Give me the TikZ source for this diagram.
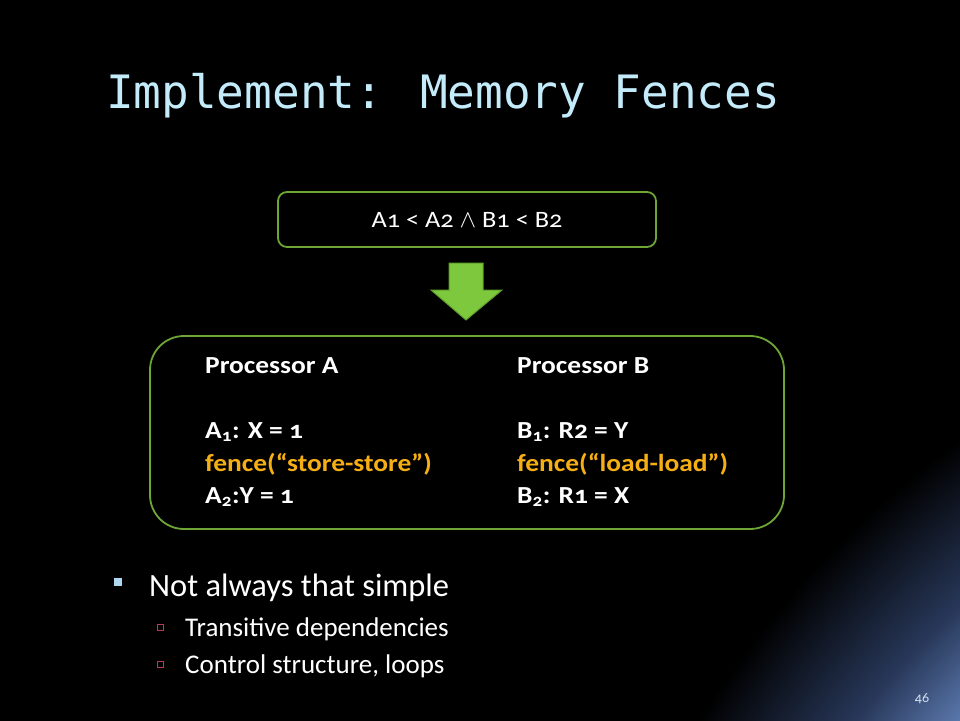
\documentclass[tikz,border=0pt]{standalone}
\usepackage{fontspec}
\setmainfont[Numbers=OldStyle]{Carlito}
\newfontfamily\boxfont[Numbers=OldStyle,FakeStretch=1.12]{Carlito}
\newfontfamily\titlefont{DejaVu Sans Mono}
\usetikzlibrary{calc}
\definecolor{titleblue}{RGB}{195,235,250}
\definecolor{boxgreen}{RGB}{110,165,55}
\definecolor{arrowgreen}{RGB}{125,200,60}
\definecolor{arrowedge}{RGB}{95,160,45}
\definecolor{fenceorange}{RGB}{245,175,20}
\definecolor{bulletblue}{RGB}{175,215,240}
\definecolor{subbullet}{RGB}{190,55,85}
\definecolor{glowblue}{RGB}{90,120,172}
\definecolor{glowmid}{RGB}{40,56,90}
\pgfdeclareradialshading{glow}{\pgfpoint{0bp}{0bp}}{color(0bp)=(glowblue); color(9.09bp)=(glowblue); color(10bp)=(glowmid); color(11.48bp)=(black); color(50bp)=(black)}
\tikzset{
  boxline/.style={draw=boxgreen, line width=1.8pt},
  codetext/.style={anchor=base west, text=white, font=\boxfont\fontsize{24.5}{27}\selectfont\bfseries, inner sep=0pt},
  fencetext/.style={anchor=base west, text=fenceorange, font=\boxfont\fontsize{24.5}{27}\selectfont\bfseries, inner sep=0pt},
  bullettext/.style={anchor=base west, text=white, inner sep=0pt},
}
\newcommand{\sbs}[1]{\textsubscript{#1}}
\begin{document}
\begin{tikzpicture}[x=1pt,y=-1pt]
\useasboundingbox (0,0) rectangle (960,720);
\fill[black] (0,0) rectangle (960,720);
\begin{scope}
\clip (0,0) rectangle (960,720);
\fill[shading=glow] (1554,1256) circle (2200);
\end{scope}
% title
\node[anchor=base west, text=titleblue, inner sep=0pt, font=\titlefont\fontsize{46}{50}\selectfont] (title) at (106,108) {Implement: Memory Fences};
% top box
\node[boxline, rounded corners=9pt, minimum width=378pt, minimum height=55pt, text=white, font=\boxfont\fontsize{23.5}{26}\selectfont] (cond) at (467,219.5) {A1 < A2 $\wedge$ B1 < B2};
% arrow
\fill[arrowgreen, draw=arrowedge, line width=1pt] (449,263) -- (483,263) -- (483,290) -- (502,290) -- (466,320) -- (431,290) -- (449,290) -- cycle;
% big box
\node[boxline, rounded corners=34pt, minimum width=634pt, minimum height=193pt] (procbox) at (467,432.5) {};
\node[codetext] (pa) at (205,373) {Processor A};
\node[codetext] (pb) at (517,373) {Processor B};
\node[codetext] (a1) at (205,438) {A\sbs{1}: X = 1};
\node[fencetext] (fa) at (205,471) {fence(“store-store”)};
\node[codetext] (a2) at (205,503) {A\sbs{2}:Y = 1};
\node[codetext] (b1) at (517,438) {B\sbs{1}: R2 = Y};
\node[fencetext] (fb) at (517,471) {fence(“load-load”)};
\node[codetext] (b2) at (517,503) {B\sbs{2}: R1 = X};
% bullets
\fill[bulletblue] (114,578) rectangle (122,586);
\node[bullettext, font=\fontsize{32.5}{35}\selectfont] (b0) at (149,596) {Not always that simple};
\draw[subbullet, line width=0.9pt] (157.5,624) rectangle (163.5,630);
\node[bullettext, font=\fontsize{27}{30}\selectfont] (s1) at (185,636) {Transitive dependencies};
\draw[subbullet, line width=0.9pt] (157.5,661) rectangle (163.5,667);
\node[bullettext, font=\fontsize{27}{30}\selectfont] (s2) at (185,673) {Control structure, loops};
% page number
\node[text={rgb,255:red,215;green,225;blue,240}, font=\fontsize{14}{16}\selectfont, inner sep=0pt] (pg) at (922,699) {46};
\end{tikzpicture}
\end{document}
